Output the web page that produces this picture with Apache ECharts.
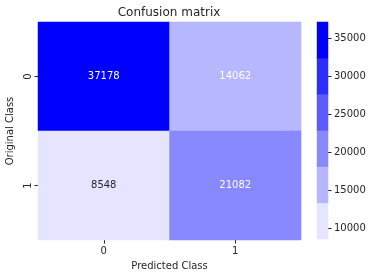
<!DOCTYPE html>
<html><head><meta charset="utf-8">
<script src="https://cdn.jsdelivr.net/npm/echarts@6/dist/echarts.min.js"></script>
<style>html,body{margin:0;padding:0;background:#fff}#c{width:373px;height:278px}</style>
</head><body><div id="c"></div>
<script>
const predictedClasses = ['0', '1'];
const originalClasses = ['0', '1'];
// rows = original class, columns = predicted class
const row0 = [37178, 14062];
const row1 = [8548, 21082];
const bandColors = ['#e5e5ff', '#b7b7ff', '#8989ff', '#5b5bff', '#2d2dff', '#0000ff'];
const colorbarTicks = [10000, 15000, 20000, 25000, 30000, 35000];
const textDark = '#262626';
const textLight = '#ffffff';

const rows = [row0, row1];
const all = row0.concat(row1);
const vmin = Math.min(...all), vmax = Math.max(...all);
const step = (vmax - vmin) / bandColors.length;
const pieces = bandColors.map((c, i) => i === bandColors.length - 1
  ? {gte: vmin + i * step, lte: vmax, color: c}
  : {gte: vmin + i * step, lt: vmin + (i + 1) * step, color: c});

const mainData = [];
rows.forEach((r, yi) => r.forEach((v, xi) => {
  const band = Math.min(bandColors.length - 1, Math.floor((v - vmin) / step));
  mainData.push({value: [xi, yi, v], label: {color: band === 0 ? textDark : textLight}});
}));
const barData = bandColors.map((c, i) => [0, i, i]);

const font = 'DejaVu Sans';
const chart = echarts.init(document.getElementById('c'));
chart.setOption({
  animation: false,
  textStyle: {fontFamily: font},
  graphic: [{type: 'text', x: 169, y: 13, style: {text: 'Confusion matrix', fontFamily: font, fontSize: 12, fill: textDark, textAlign: 'center', textVerticalAlign: 'middle'}}],
  grid: [
    {left: 38, top: 22, width: 263, height: 218, containLabel: false, outerBoundsMode: 'none'},
    {left: 317, top: 22, width: 11, height: 217, containLabel: false, outerBoundsMode: 'none'}
  ],
  xAxis: [
    {type: 'category', gridIndex: 0, data: predictedClasses, name: 'Predicted Class', nameLocation: 'middle', nameGap: 21,
      nameTextStyle: {fontFamily: font, fontSize: 10, color: textDark},
      axisLine: {show: false}, axisTick: {show: true, alignWithLabel: true, length: 3.5, lineStyle: {color: textDark}},
      axisLabel: {fontFamily: font, fontSize: 10, color: textDark, margin: 6}, splitLine: {show: false}},
    {type: 'category', gridIndex: 1, data: ['c'], show: false}
  ],
  yAxis: [
    {type: 'category', gridIndex: 0, data: originalClasses, inverse: true, name: 'Original Class', nameLocation: 'middle', nameGap: 13,
      nameTextStyle: {fontFamily: font, fontSize: 10, color: textDark},
      axisLine: {show: false}, axisTick: {show: true, alignWithLabel: true, length: 3.5, lineStyle: {color: textDark}},
      axisLabel: {fontFamily: font, fontSize: 10, color: textDark, rotate: 90, margin: 5}, splitLine: {show: false}},
    {type: 'category', gridIndex: 1, data: bandColors.map((c, i) => 'b' + i), show: false},
    {type: 'value', gridIndex: 1, position: 'right', min: vmin, max: vmax,
      axisLine: {show: false}, splitLine: {show: false},
      axisTick: {show: true, length: 3.5, customValues: colorbarTicks, lineStyle: {color: textDark}},
      axisLabel: {fontFamily: font, fontSize: 10, color: textDark, margin: 6, customValues: colorbarTicks, formatter: v => String(v)}}
  ],
  visualMap: [
    {type: 'piecewise', show: false, seriesIndex: 0, dimension: 2, pieces: pieces},
    {type: 'piecewise', show: false, seriesIndex: 1, dimension: 2, pieces: bandColors.map((c, i) => ({value: i, color: c}))}
  ],
  series: [
    {type: 'heatmap', xAxisIndex: 0, yAxisIndex: 0, data: mainData,
      label: {show: true, fontFamily: font, fontSize: 10, formatter: p => String(p.value[2])}},
    {type: 'heatmap', xAxisIndex: 1, yAxisIndex: 1, data: barData, label: {show: false}}
  ]
});
</script></body></html>
